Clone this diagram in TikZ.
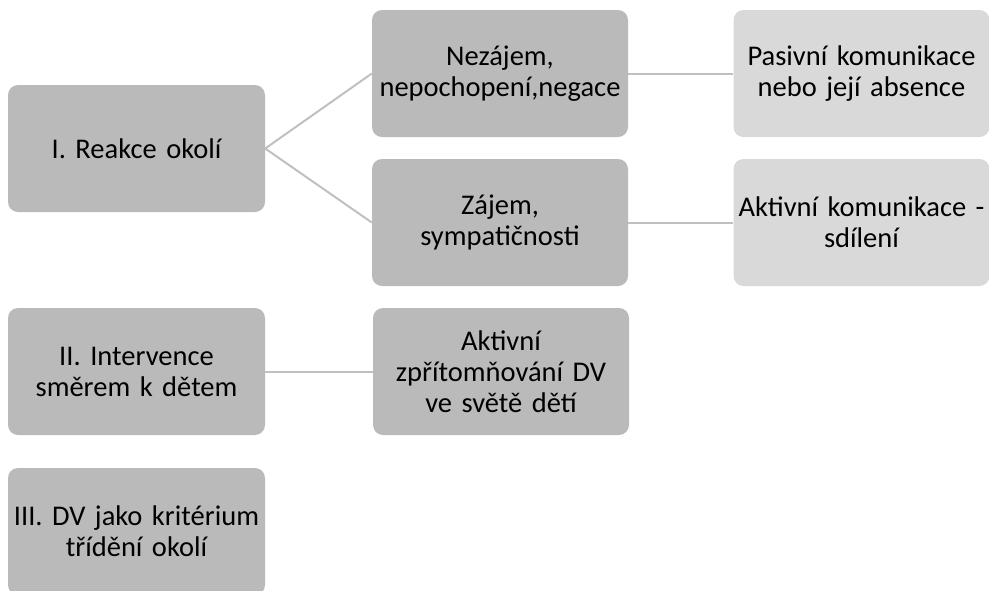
\documentclass[tikz,border=0pt]{standalone}
\usepackage{fontspec}
\setmainfont{Carlito}
\definecolor{boxdark}{HTML}{BABABA}
\definecolor{boxlight}{HTML}{D9D9D9}
\definecolor{linkgray}{HTML}{C0C0C0}
\begin{document}
\begin{tikzpicture}[x=1pt,y=-1pt,
  box/.style={rectangle, rounded corners=10pt, fill=boxdark, minimum width=257pt, minimum height=127pt,
    text width=256pt, align=center, inner sep=0pt,
    font=\fontsize{28.5}{31}\selectfont, text=black},
  lbox/.style={box, fill=boxlight, minimum width=254pt},
  link/.style={draw=linkgray, line width=2pt}]
\useasboundingbox (0,0) rectangle (989,590);
\node[box] (r1) at (136.5,148.5) {I. Reakce okolí};
\node[box, minimum width=256pt] (n1) at (500,73.5) {Nezájem,\\nepochopení,negace};
\node[lbox] (p1) at (861.5,73.5) {Pasivní komunikace\\nebo její absence};
\node[box, minimum width=256pt] (z1) at (500,222.5) {Zájem,\\sympatičnosti};
\node[lbox] (a1) at (861.5,222.5) {Aktivní komunikace -\\sdílení};
\node[box] (r2) at (136.5,371.5) {II. Intervence\\směrem k dětem};
\node[box, minimum width=256pt] (z2) at (501,371.5) {Aktivní\\zpřítomňování DV\\ve světě dětí};
\node[box] (r3) at (136.5,531.5) {III. DV jako kritérium\\třídění okolí};
\draw[link] (r1.east) -- (n1.west);
\draw[link] (r1.east) -- (z1.west);
\draw[link] (n1.east) -- (p1.west);
\draw[link] (z1.east) -- (a1.west);
\draw[link] (r2.east) -- (z2.west);
\end{tikzpicture}
\end{document}
